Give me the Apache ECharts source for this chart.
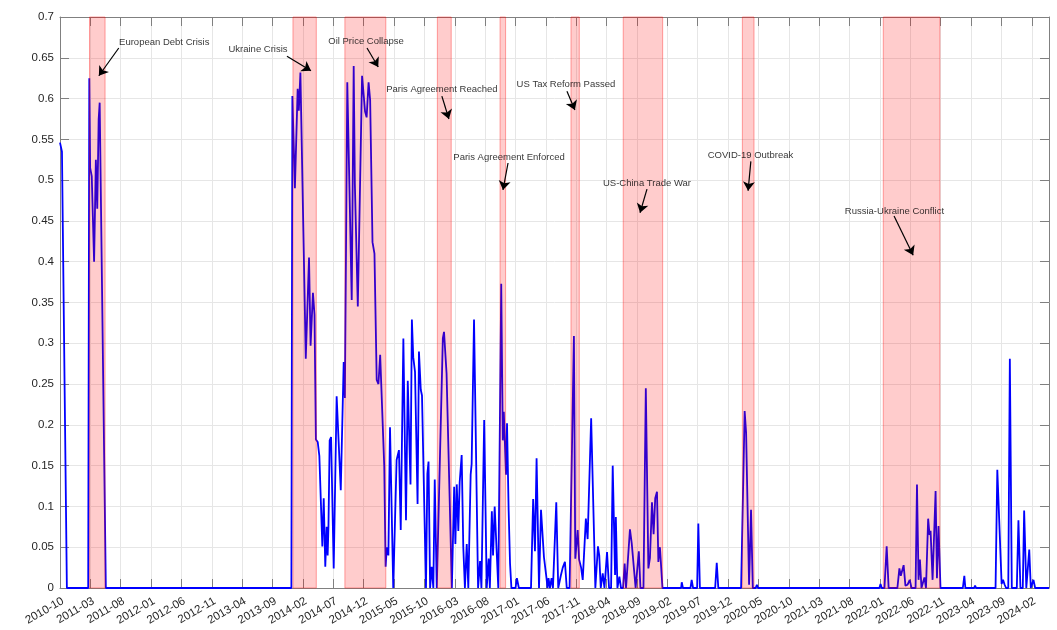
<!DOCTYPE html>
<html><head><meta charset="utf-8">
<script src="https://cdn.jsdelivr.net/npm/echarts@6/dist/echarts.min.js"></script>
<style>html,body{margin:0;padding:0;background:#fff}#c{width:1057px;height:630px}</style>
</head><body><div id="c"></div>
<script>
// ---- data ----
const dates = [
'2010-10-01','2010-10-11','2010-11-05','2011-02-19','2011-02-24','2011-02-28','2011-03-08','2011-03-20','2011-03-29','2011-04-05',
'2011-04-12','2011-04-17','2011-05-18','2013-12-04',
'2013-12-09','2013-12-22','2014-01-05','2014-01-11','2014-01-19','2014-02-03','2014-02-14','2014-03-01','2014-03-09','2014-03-21',
'2014-03-29','2014-04-05','2014-04-14','2014-04-22','2014-04-30','2014-05-07','2014-05-14','2014-05-22','2014-05-29','2014-06-03',
'2014-06-07','2014-06-13','2014-06-20','2014-07-03','2014-07-18','2014-08-08','2014-08-23','2014-08-29','2014-09-10','2014-10-02',
'2014-10-12','2014-10-18','2014-10-25','2014-11-02','2014-11-23','2014-12-08','2014-12-16','2014-12-26','2015-01-03','2015-01-15',
'2015-01-25','2015-02-05','2015-02-13','2015-02-21','2015-03-13','2015-03-20','2015-03-26','2015-04-03','2015-04-11','2015-04-27',
'2015-05-06','2015-05-14','2015-05-26','2015-06-04','2015-06-17','2015-06-30','2015-07-09','2015-07-23','2015-07-30','2015-08-06',
'2015-08-15','2015-08-28','2015-09-04','2015-09-13','2015-09-19','2015-10-09','2015-10-16','2015-10-22','2015-10-30','2015-11-07',
'2015-11-15','2015-11-22','2015-12-02','2016-01-02','2016-01-08','2016-01-21','2016-02-16','2016-02-27','2016-03-04','2016-03-11',
'2016-03-19','2016-03-26','2016-04-05','2016-04-13','2016-04-21','2016-04-30','2016-05-08','2016-05-20','2016-05-25','2016-06-06',
'2016-06-26','2016-07-06','2016-07-13','2016-07-27','2016-08-09','2016-08-19','2016-08-25','2016-09-04','2016-09-10','2016-09-18',
'2016-09-25','2016-10-06','2016-10-14','2016-10-21','2016-10-29','2016-11-03','2016-11-08','2016-11-14','2016-11-19','2016-11-27',
'2016-12-04','2016-12-11','2017-01-01','2017-01-08','2017-01-18','2017-03-18','2017-03-29','2017-04-07','2017-04-15','2017-04-27',
'2017-05-07','2017-05-14','2017-05-22','2017-05-29','2017-06-04','2017-06-09','2017-06-14','2017-06-21','2017-06-29','2017-07-06',
'2017-07-23','2017-08-02','2017-08-15','2017-08-25','2017-09-05','2017-09-14','2017-09-28','2017-10-20','2017-10-27','2017-11-08',
'2017-11-15','2017-11-25','2017-12-03','2017-12-12','2017-12-19','2017-12-28','2018-01-15','2018-02-05','2018-02-17','2018-02-23',
'2018-03-02','2018-03-12','2018-03-21','2018-04-03','2018-04-13','2018-04-23','2018-05-01','2018-05-13','2018-05-17','2018-05-25',
'2018-06-04','2018-06-12','2018-06-22','2018-06-30','2018-07-07','2018-07-27','2018-08-05','2018-08-13','2018-08-25','2018-09-01',
'2018-09-10','2018-09-18','2018-10-03','2018-10-15','2018-10-28','2018-11-05','2018-11-15','2018-11-23','2018-12-01','2018-12-10',
'2018-12-17','2018-12-25','2019-01-07','2019-04-09','2019-04-12','2019-04-18','2019-05-26','2019-06-01','2019-06-08','2019-06-28',
'2019-07-04','2019-07-12','2019-09-27','2019-10-05','2019-10-13','2020-02-05','2020-02-22','2020-02-29','2020-03-15','2020-03-25',
'2020-04-03','2020-04-17','2020-04-23','2020-04-29','2021-12-29','2022-01-04','2022-01-10','2022-01-24','2022-02-04','2022-02-13',
'2022-03-28','2022-04-07','2022-04-14','2022-04-28','2022-05-07','2022-05-18','2022-05-29','2022-06-07','2022-06-27','2022-07-04',
'2022-07-12','2022-07-19','2022-07-27','2022-08-04','2022-08-11','2022-08-19','2022-08-30','2022-09-06','2022-09-11','2022-09-21',
'2022-10-06','2022-10-13','2022-10-21','2022-10-31','2023-02-19','2023-02-26','2023-03-03','2023-04-16','2023-04-21','2023-04-26',
'2023-08-02','2023-08-11','2023-09-02','2023-09-09','2023-09-17','2023-09-24','2023-10-05','2023-10-13','2023-10-23','2023-11-17',
'2023-11-25','2023-12-05','2023-12-17','2023-12-24','2024-01-04','2024-01-13','2024-01-19','2024-01-27','2024-02-03','2024-02-09',
'2024-02-17','2024-04-26'
];
const values = [
0.546,0.535,0,0,0.625,0.515,0.505,0.40,0.525,0.465,
0.575,0.595,0,0,
0.603,0.49,0.612,0.585,0.632,0.437,0.281,0.405,0.297,0.362,
0.335,0.182,0.179,0.162,0.162,0.051,0.11,0.026,0.075,0.04,
0.075,0.181,0.185,0.024,0.235,0.12,0.277,0.233,0.62,0.353,
0.64,0.495,0.495,0.345,0.628,0.584,0.577,0.62,0.598,0.424,
0.41,0.255,0.25,0.286,0.149,0.026,0.05,0.04,0.197,0,
0,0.157,0.169,0.071,0.306,0.083,0.254,0.127,0.329,0.283,
0.265,0.103,0.29,0.243,0.236,0,0.14,0.155,0,0.026,
0,0.133,0,0.306,0.314,0.263,0,0.124,0.054,0.127,
0.07,0.13,0.163,0.05,0,0.054,0,0.139,0.152,0.329,
0,0.033,0,0.206,0,0.036,0,0.094,0.04,0.1,
0.1,0,0,0.373,0.181,0.216,0.181,0.139,0.202,0.095,
0.03,0,0,0.012,0,0,0.109,0.045,0.159,0,
0.096,0.098,0.038,0.04,0.012,0,0.012,0,0.012,0,
0.105,0,0.015,0.025,0.032,0,0,0.309,0.036,0.071,
0.035,0.025,0.01,0.01,0.085,0.06,0.208,0,0.051,0.04,
0,0.018,0,0.044,0,0,0.15,0.016,0.087,0,
0.014,0,0,0.03,0,0.072,0.055,0.055,0,0,
0.045,0,0,0.245,0.024,0.037,0.105,0.066,0.11,0.118,
0.032,0.05,0,0,0.007,0,0,0.01,0,0,
0.079,0,0,0.031,0,0,0.217,0.19,0.004,0.096,
0,0,0.004,0,0,0.005,0,0,0.051,0,
0,0.024,0.015,0.028,0.003,0.004,0.01,0,0,0.127,
0.01,0.035,0,0.007,0.013,0,0.085,0.065,0.07,0.01,
0.119,0.012,0.076,0,0,0.015,0,0,0.003,0,
0,0.145,0.005,0.01,0.004,0,0,0.281,0,0,
0.083,0,0,0.095,0,0,0.047,0,0,0.01,
0,0
];
const eventNames = ['European Debt Crisis','Ukraine Crisis','Oil Price Collapse','Paris Agreement Reached','Paris Agreement Enforced','US Tax Reform Passed','US-China Trade War','COVID-19 Outbreak','Russia-Ukraine Conflict'];
const eventStart = ['2011-02-25','2013-12-12','2014-08-29','2015-12-05','2016-10-15','2017-10-05','2018-06-23','2020-02-11','2022-01-18'];
const eventEnd   = ['2011-05-14','2014-04-07','2015-03-21','2016-02-13','2016-11-12','2017-11-16','2019-01-08','2020-04-09','2022-10-28'];
const textDates  = ['2012-03-06','2013-06-19','2014-12-13','2015-12-28','2016-11-29','2017-09-10','2018-10-21','2020-03-22','2022-03-13'];
const textValues = [0.6685,0.66,0.6706,0.6117,0.5284,0.6179,0.4965,0.5308,0.4622];
const tailDates  = ['2011-07-22','2013-11-12','2014-12-18','2015-12-28','2016-11-24','2017-09-15','2018-10-21','2020-03-24','2022-03-11'];
const tailValues = [0.662,0.652,0.662,0.603,0.521,0.609,0.489,0.523,0.456];
const headDates  = ['2011-04-13','2014-03-11','2015-02-12','2016-02-02','2016-10-30','2017-10-25','2018-09-16','2020-03-10','2022-06-15'];
const headValues = [0.628,0.634,0.6387,0.575,0.488,0.586,0.46,0.487,0.408];
const yMin = 0, yMax = 0.7, yStep = 0.05, monthStep = 5;

// months since 2010-10-01
function toM(s){const p=s.split('-').map(Number);const dim=new Date(p[0],p[1],0).getDate();return (p[0]-2010)*12+(p[1]-10)+(p[2]-1)/dim;}
function mLabel(m){const k=Math.round(m);const t=9+k;const y=2010+Math.floor(t/12);const mo=t%12+1;return y+'-'+String(mo).padStart(2,'0');}

const xMax = toM(dates[dates.length-1]);
const lineData = dates.map((d,i)=>[toM(d), values[i]]);
const axisCol = '#808080', txtCol = '#262626', gridCol = '#e6e6e6';
const font = 'Liberation Sans, Arial, Helvetica, sans-serif';

const chart = echarts.init(document.getElementById('c'), null, {renderer:'canvas'});
chart.setOption({
  animation:false,
  backgroundColor:'#fff',
  grid:{left:60,right:8,top:17,bottom:42,containLabel:false},
  xAxis:[
    {type:'value',min:0,max:xMax,interval:monthStep,position:'bottom',
     axisLine:{show:true,onZero:false,lineStyle:{color:axisCol,width:1}},
     axisTick:{show:true,inside:true,length:9,lineStyle:{color:axisCol}},
     axisLabel:{rotate:30,fontSize:11.5,color:txtCol,fontFamily:font,margin:7,verticalAlign:'top',
       formatter:v=>Math.abs(v/monthStep-Math.round(v/monthStep))<1e-6?mLabel(v):''},
     splitLine:{show:true,lineStyle:{color:gridCol,width:1}}},
    {type:'value',min:0,max:xMax,interval:monthStep,position:'top',
     axisLine:{show:true,onZero:false,lineStyle:{color:axisCol,width:1}},
     axisTick:{show:true,inside:true,length:9,lineStyle:{color:axisCol}},
     axisLabel:{show:false},splitLine:{show:false}}
  ],
  yAxis:[
    {type:'value',min:yMin,max:yMax,interval:yStep,position:'left',
     axisLine:{show:true,onZero:false,lineStyle:{color:axisCol,width:1}},
     axisTick:{show:true,inside:true,length:9,lineStyle:{color:axisCol}},
     axisLabel:{fontSize:11.5,color:txtCol,fontFamily:font,margin:6},
     splitLine:{show:true,lineStyle:{color:gridCol,width:1}}},
    {type:'value',min:yMin,max:yMax,interval:yStep,position:'right',
     axisLine:{show:true,onZero:false,lineStyle:{color:axisCol,width:1}},
     axisTick:{show:true,inside:true,length:9,lineStyle:{color:axisCol}},
     axisLabel:{show:false},splitLine:{show:false}}
  ],
  series:[
    {type:'line',xAxisIndex:0,yAxisIndex:0,data:lineData,symbol:'none',showSymbol:false,clip:false,z:2,
     lineStyle:{color:'#0000ff',width:1.8},
     markArea:{z:3,silent:true,label:{show:false},
       itemStyle:{color:'rgba(255,0,0,0.2)',borderColor:'rgba(255,0,0,0.35)',borderWidth:1},
       data:eventStart.map((s,i)=>[{xAxis:toM(s)},{xAxis:toM(eventEnd[i])}])}},
    {type:'scatter',xAxisIndex:0,yAxisIndex:0,symbolSize:0,z:6,silent:true,
     itemStyle:{color:'rgba(0,0,0,0)'},
     data:textDates.map((d,i)=>({name:eventNames[i],value:[toM(d),textValues[i]]})),
     label:{show:true,position:'inside',formatter:'{b}',color:'#000',fontSize:9.5,fontFamily:font},
     markLine:{silent:true,symbol:['none','arrow'],symbolSize:9,label:{show:false},
       lineStyle:{color:'#000',width:1.2,type:'solid'},
       data:tailDates.map((d,i)=>[{coord:[toM(d),tailValues[i]]},{coord:[toM(headDates[i]),headValues[i]]}])}}
  ]
});
</script></body></html>
